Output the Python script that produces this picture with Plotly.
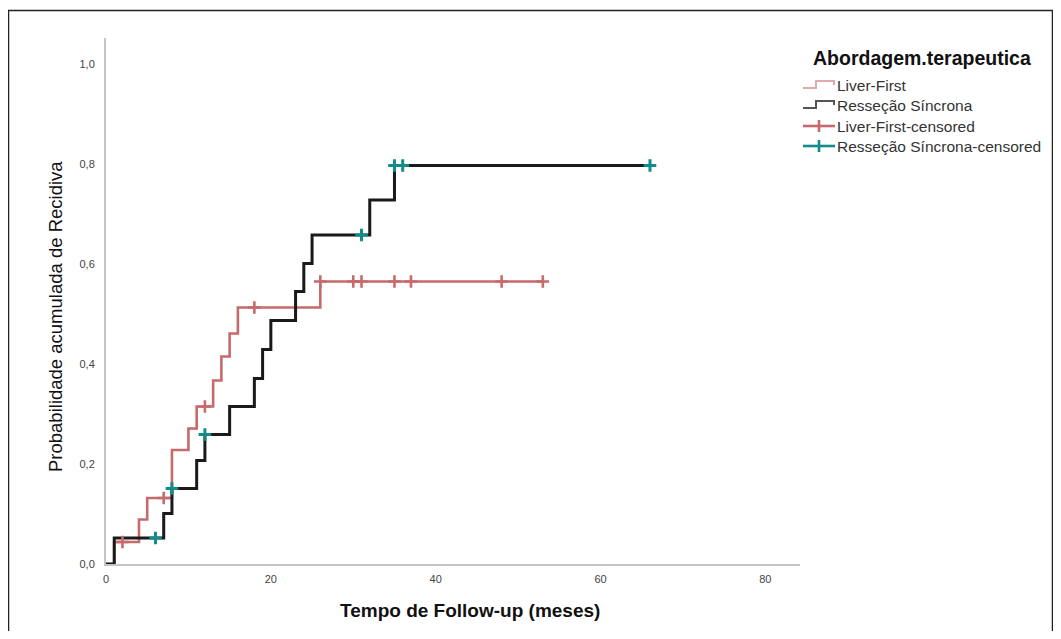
import plotly.graph_objects as go
import numpy as np

# ---------------- data ----------------
lf_times = [0, 1, 4, 5, 8, 10, 11, 13, 14, 15, 16, 26, 53]
lf_cuminc = [0.0, 0.044, 0.089, 0.132, 0.228, 0.271, 0.315, 0.367, 0.415, 0.461, 0.513, 0.565, 0.565]
lf_censored = [2, 7, 12, 18, 26, 30, 31, 35, 37, 48, 53]

rs_times = [0, 1, 7, 8, 11, 12, 15, 18, 19, 20, 23, 24, 25, 32, 35, 66]
rs_cuminc = [0.0, 0.052, 0.101, 0.151, 0.207, 0.259, 0.315, 0.371, 0.429, 0.487, 0.545, 0.601, 0.658, 0.728, 0.797, 0.797]
rs_censored = [6, 8, 12, 31, 35, 36, 66]

x_ticks = [0, 20, 40, 60, 80]
y_ticks = [0.0, 0.2, 0.4, 0.6, 0.8, 1.0]

legend_title = "Abordagem.terapeutica"
legend_labels = ["Liver-First", "Resseção Síncrona", "Liver-First-censored", "Resseção Síncrona-censored"]

# ---------------- styles ----------------
RED = "#c76a6c"
RED_LIGHT = "#e3a9aa"
BLACK = "#1a1a1a"
GREY = "#555555"
TEAL = "#148b8b"
FONT = "Liberation Sans, Arial, sans-serif"

OFF = 8                      # page body margin
W, H = 1045, 623
PL, PT, PR, PB = 106, 38, 800, 564   # plot area in page pixels
ML, MT = PL - OFF, PT - OFF
PW, PH = PR - PL, PB - PT
MR, MB = W - ML - PW, H - MT - PH


def px(xp):
    return (xp - PL) / PW


def py(yp):
    return (PB - yp) / PH


def step_value(times, vals, t):
    idx = np.searchsorted(times, t, side="right") - 1
    return vals[idx]


fig = go.Figure()

fig.add_trace(go.Scatter(x=lf_times, y=lf_cuminc, mode="lines", line=dict(shape="hv", color=RED, width=2.6),
                         name=legend_labels[0], showlegend=False, hoverinfo="x+y"))
fig.add_trace(go.Scatter(x=rs_times, y=rs_cuminc, mode="lines", line=dict(shape="hv", color=BLACK, width=3),
                         name=legend_labels[1], showlegend=False, hoverinfo="x+y"))
fig.add_trace(go.Scatter(x=lf_censored, y=[step_value(lf_times, lf_cuminc, t) for t in lf_censored],
                         mode="markers", marker=dict(symbol="cross-thin", size=9, line=dict(color=RED, width=2.6)),
                         name=legend_labels[2], showlegend=False))
fig.add_trace(go.Scatter(x=rs_censored, y=[step_value(rs_times, rs_cuminc, t) for t in rs_censored],
                         mode="markers", marker=dict(symbol="cross-thin", size=9, line=dict(color=TEAL, width=3)),
                         name=legend_labels[3], showlegend=False))

shapes = []
annotations = []

# outer frame
shapes.append(dict(type="rect", xref="paper", yref="paper", x0=px(8.5), x1=px(1052.5), y0=py(660), y1=py(10.5),
                   line=dict(color="#222222", width=1.5), fillcolor="rgba(0,0,0,0)", layer="below"))

# manual legend
annotations.append(dict(xref="paper", yref="paper", x=px(811), y=py(58), xanchor="left", yanchor="middle",
                        text="<b>" + legend_title + "</b>", showarrow=False,
                        font=dict(family=FONT, size=19.5, color="#111111")))
item_y = [85, 105, 126, 146]
icon_colors = [RED_LIGHT, GREY, RED, TEAL]
for i, (lab, yy, col) in enumerate(zip(legend_labels, item_y, icon_colors)):
    annotations.append(dict(xref="paper", yref="paper", x=px(835), y=py(yy), xanchor="left", yanchor="middle",
                            text=lab, showarrow=False, font=dict(family=FONT, size=15.5, color="#333333")))
    if i < 2:
        path = "M {a},{b} L {c},{b} L {c},{d} L {e},{d} L {e},{f}".format(
            a=px(803), b=py(yy + 3), c=px(816), d=py(yy - 4), e=px(834), f=py(yy))
        shapes.append(dict(type="path", xref="paper", yref="paper", path=path,
                           line=dict(color=col, width=2)))
    else:
        shapes.append(dict(type="line", xref="paper", yref="paper", x0=px(803), x1=px(835), y0=py(yy), y1=py(yy),
                           line=dict(color=col, width=2.6)))
        shapes.append(dict(type="line", xref="paper", yref="paper", x0=px(819), x1=px(819), y0=py(yy - 6),
                           y1=py(yy + 6), line=dict(color=col, width=2.6)))

# axis titles
annotations.append(dict(xref="paper", yref="paper", x=px(55), y=py(317), textangle=-90, xanchor="center",
                        yanchor="middle", text="Probabilidade acumulada de Recidiva", showarrow=False,
                        font=dict(family=FONT, size=18.5, color="#111111")))
annotations.append(dict(xref="paper", yref="paper", x=px(470), y=py(610), xanchor="center", yanchor="middle",
                        text="<b>Tempo de Follow-up (meses)</b>", showarrow=False,
                        font=dict(family=FONT, size=19, color="#111111")))

fig.update_layout(
    width=W, height=H,
    margin=dict(l=ML, r=MR, t=MT, b=MB, autoexpand=False),
    paper_bgcolor="white", plot_bgcolor="white",
    separators=",.",
    showlegend=False,
    shapes=shapes, annotations=annotations,
    font=dict(family=FONT),
)
fig.update_xaxes(range=[0, 84.2], tickvals=x_ticks, showgrid=False, zeroline=False, showline=True,
                 linecolor="#c4c4c4", linewidth=2, ticks="", ticklabelstandoff=4,
                 tickfont=dict(family=FONT, size=11, color="#444444"))
fig.update_yaxes(range=[0, 1.052], tickvals=y_ticks, tickformat=".1f", showgrid=False, zeroline=False,
                 showline=True, linecolor="#c4c4c4", linewidth=2, ticks="", ticklabelstandoff=7,
                 tickfont=dict(family=FONT, size=11, color="#444444"))

fig.write_html("out.html")
